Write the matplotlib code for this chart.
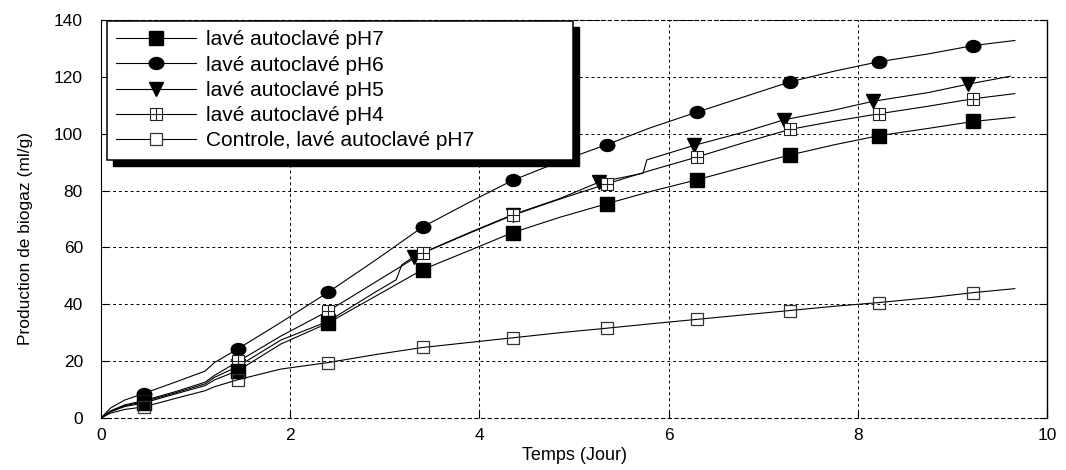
import matplotlib
matplotlib.use('Agg')
import matplotlib.pyplot as plt
from matplotlib.lines import Line2D
from matplotlib.legend_handler import HandlerTuple
from matplotlib.path import Path
from matplotlib.transforms import Affine2D
from matplotlib.patches import Rectangle

plt.rcParams['font.family'] = ['Liberation Sans', 'DejaVu Sans']

# temps (jour)
t = [0, 0.1, 0.25, 0.45, 0.8, 1.1, 1.2, 1.45, 1.9, 2.4, 2.9, 3.4, 3.9,
     4.35, 4.85, 5.35, 5.8, 6.3, 6.8, 7.28, 7.75, 8.22, 8.75, 9.22, 9.66]
# la courbe pH5 a ses propres temps (sauts vers 3.15 et 5.75 jours)
t_ph5 = [0, 0.1, 0.25, 0.45, 0.8, 1.1, 1.2, 1.45, 1.9, 2.4, 2.9, 3.12, 3.18, 3.31,
         3.9, 4.35, 4.85, 5.26, 5.73, 5.77, 6.27, 6.8, 7.22, 7.75, 8.16, 8.75, 9.16, 9.61]

# production de biogaz (ml/g)
ph7 = [0, 2.2, 4.0, 5.3, 8.6, 11.4, 13.4, 16.7, 26.0, 33.4, 42.8, 52.2, 59.0,
       65.2, 70.6, 75.4, 79.6, 83.8, 88.3, 92.5, 96.1, 99.3, 101.9, 104.3, 105.8]
ph6 = [0, 3.5, 6.3, 8.6, 12.8, 16.5, 19.5, 24.4, 33.6, 44.2, 55.5, 67.2, 76.0,
       83.6, 90.2, 96.2, 102.0, 107.6, 113.0, 118.2, 122.0, 125.3, 128.1, 131.0, 132.8]
ph5 = [0, 2.3, 4.3, 5.7, 9.0, 12.0, 14.3, 18.2, 27.4, 34.0, 44.3, 48.6, 53.9, 56.8,
       65.3, 71.5, 77.2, 82.9, 86.1, 90.8, 95.9, 100.6, 104.9, 108.3, 111.4, 114.5, 117.4, 120.2]
ph4 = [0, 2.5, 4.6, 6.1, 9.4, 12.6, 15.0, 19.9, 28.8, 37.6, 47.8, 58.0, 65.1,
       71.3, 77.0, 82.4, 87.0, 91.8, 96.9, 101.5, 104.4, 107.0, 109.7, 112.3, 114.1]
controle = [0, 1.7, 3.0, 3.9, 7.0, 9.6, 11.0, 13.5, 17.2, 19.5, 22.3, 24.8, 26.6,
            28.2, 30.0, 31.6, 33.1, 34.7, 36.3, 37.8, 39.3, 40.6, 42.3, 44.1, 45.5]

labels = ['lavé autoclavé pH7', 'lavé autoclavé pH6', 'lavé autoclavé pH5',
          'lavé autoclavé pH4', 'Controle, lavé autoclavé pH7']

# indices des points qui portent un symbole
mk = [3, 7, 9, 11, 13, 15, 17, 19, 21, 23]
mk5 = [3, 7, 9, 13, 15, 17, 20, 22, 24, 26]

# rond un peu aplati comme sur l'original
ellipse = Path.unit_circle().transformed(Affine2D().scale(1.0, 0.82))

lw = 0.8
fig = plt.figure(figsize=(10.66, 4.7), dpi=100)
ax = fig.add_axes([101 / 1066, 52 / 470, 946 / 1066, 398 / 470])

ax.plot(t, ph6, color='k', lw=lw, marker=ellipse, ms=10.5, mfc='k', mec='k', markevery=mk)
ax.plot(t_ph5, ph5, color='k', lw=lw, marker='v', ms=9.5, mfc='k', mec='k', markevery=mk5)
ax.plot(t, ph4, color='k', lw=lw, marker='s', ms=9, mfc='white', mec='#222', mew=0.8, markevery=mk)
ax.plot(t, ph4, ls='none', marker='+', ms=9, mec='#222', mew=0.8, markevery=mk)
ax.plot(t, ph7, color='k', lw=lw, marker='s', ms=9.5, mfc='k', mec='k', markevery=mk)
ax.plot(t, controle, color='k', lw=lw, marker='s', ms=9, mfc='none', mec='#333', mew=0.9, markevery=mk)

ax.set_xlim(0, 10)
ax.set_ylim(0, 140)
ax.set_xticks(range(0, 11, 2))
ax.set_yticks(range(0, 141, 20))
ax.set_axisbelow(True)
ax.grid(True, color='k', ls=(0, (3, 3)), lw=0.7)
ax.tick_params(direction='in', length=6, width=0.8, right=True, labelsize=12.5)
ax.tick_params(axis='x', pad=7.5)
ax.tick_params(axis='y', pad=13)
for s in ['top', 'bottom']:
    ax.spines[s].set_linestyle((0, (3, 3)))
    ax.spines[s].set_linewidth(0.8)
ax.spines['left'].set_linewidth(0.8)
ax.spines['right'].set_linewidth(1.0)

ax.set_xlabel('Temps (Jour)', fontsize=13)
ax.xaxis.set_label_coords(0.5, -0.074)
ax.set_ylabel('Production de biogaz (ml/g)', fontsize=12.5)
ax.yaxis.set_label_coords(-0.072, 0.45)

# légende
h7 = Line2D([], [], color='k', lw=lw, marker='s', ms=9.5)
h6 = Line2D([], [], color='k', lw=lw, marker=ellipse, ms=10.5)
h5 = Line2D([], [], color='k', lw=lw, marker='v', ms=9.5)
h4a = Line2D([], [], color='k', lw=lw, marker='s', ms=9, mfc='white', mec='#222', mew=0.8)
h4b = Line2D([], [], ls='none', marker='+', ms=9, mec='#222', mew=0.8)
hc = Line2D([], [], color='k', lw=lw, marker='s', ms=9, mfc='white', mec='#333', mew=0.9)

leg = ax.legend([h7, h6, h5, (h4a, h4b), hc], labels,
                handler_map={tuple: HandlerTuple(ndivide=1)},
                loc='upper left', bbox_to_anchor=(0.0063, 0.648, 0.493, 0.3495),
                mode='expand', borderaxespad=0, fontsize=15, numpoints=1,
                handlelength=3.8, handletextpad=0.5, labelspacing=0.3,
                borderpad=0.45, fancybox=False, framealpha=1, edgecolor='k')
leg.get_frame().set_linewidth(1.1)

# ombre noire décalée derrière la légende
fig.canvas.draw()
bb = leg.get_window_extent()
off = 6
inv = fig.transFigure.inverted()
x0, y0 = inv.transform((bb.x0 + off, bb.y0 - off))
ombre = Rectangle((x0, y0), bb.width / fig.bbox.width, bb.height / fig.bbox.height,
                  transform=fig.transFigure, fc='k', ec='k', zorder=4.5, clip_on=False)
ax.add_artist(ombre)

fig.savefig('out.png', dpi=100)
